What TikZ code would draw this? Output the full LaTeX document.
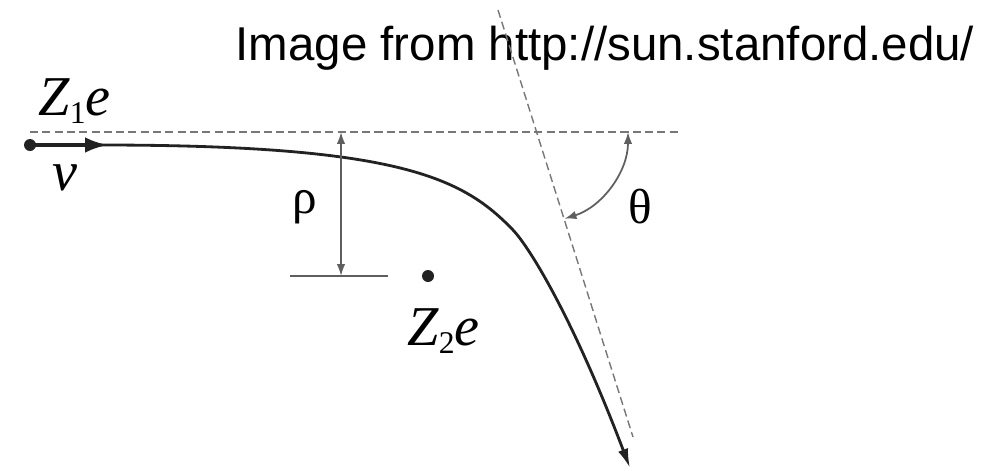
\documentclass[tikz,border=0pt]{standalone}
\usepackage{fontspec}
\usepackage{tikz}
\usetikzlibrary{positioning,calc,arrows.meta}
\newfontfamily\lblfont{Liberation Serif}
\newfontfamily\capfont{Liberation Sans}
\definecolor{ink}{HTML}{222222}
\definecolor{guide}{HTML}{777777}
\newcommand{\chrg}[1]{Z\raisebox{-2.3pt}{\upshape\fontsize{9}{9}\selectfont #1}e}

\begin{document}
\begin{tikzpicture}[
    lbl/.style={inner sep=0pt,font=\lblfont\fontsize{16}{16}\selectfont\itshape},
    greek/.style={inner sep=0pt,font=\lblfont\fontsize{14}{14}\selectfont},
    guideline/.style={guide,line width=0.4pt,dash pattern=on 2.3pt off 1.2pt},
    dim/.style={{Latex[length=3.4pt,width=2.4pt]}-{Latex[length=3.4pt,width=2.4pt]},guide!80!black,line width=0.5pt},
    traj/.style={ink,line width=0.8pt},
    charge/.style={circle,fill=ink,inner sep=0pt,minimum size=0.12cm}]

\useasboundingbox (0,0) rectangle (9.99,4.70);

% Caption
\node[inner sep=0pt,anchor=base west,font=\capfont\fontsize{13.5}{14}\selectfont] (cap) at (2.35,4.10) {Image from http://sun.stanford.edu/};

% Reference lines
\coordinate (hl) at (0.30,3.38);
\coordinate (hr) at (6.80,3.38);
\coordinate (at) at (4.98,4.60);
\coordinate (ab) at (6.33,0.33);
\coordinate (cross) at (5.37,3.38);
\draw[guideline] (hl) -- (hr);
\draw[guideline] (at) -- (ab);

% Charges
\node[charge] (z1) at (0.30,3.25) {};
\node[charge] (z2) at (4.28,1.94) {};
\node[lbl,anchor=base west] (z1lbl) at (0.38,3.55) {\chrg{1}};
\node[lbl,anchor=base west] (z2lbl) at (4.07,1.25) {\chrg{2}};

% Trajectory
\coordinate (bend) at (5.13,2.40);
\coordinate (out) at (6.30,0.02);
\draw[traj,-{Latex[length=5.5pt,width=3pt]}] (z1.center) -- (1.00,3.25)
    .. controls (4.00,3.25) and (4.63,2.92) .. (bend)
    .. controls (5.30,2.22) and (5.73,1.52) .. (out);
\coordinate (vend) at (1.08,3.25);
\draw[ink,line width=1.1pt,-{Latex[length=6.5pt,width=4.4pt]}] (z1.center) -- (vend);
\node[lbl,anchor=base west] (vlbl) at (0.52,2.80) {v};

% Impact parameter
\coordinate (rtop) at (3.41,3.38);
\coordinate (rbot) at (3.41,1.94);
\coordinate (tl) at (2.90,1.94);
\coordinate (tr) at (3.88,1.94);
\draw[guide!80!black,line width=0.5pt] (tl) -- (tr);
\draw[dim] (rtop) -- (rbot);
\node[greek,anchor=base] (rho) at (3.05,2.57) {ρ};

% Scattering angle
\draw[dim] ($(cross)+(0:0.91)$) arc[start angle=0,end angle=-72.4,radius=0.91];
\node[greek,anchor=base] (theta) at (6.40,2.47) {θ};

\end{tikzpicture}
\end{document}
